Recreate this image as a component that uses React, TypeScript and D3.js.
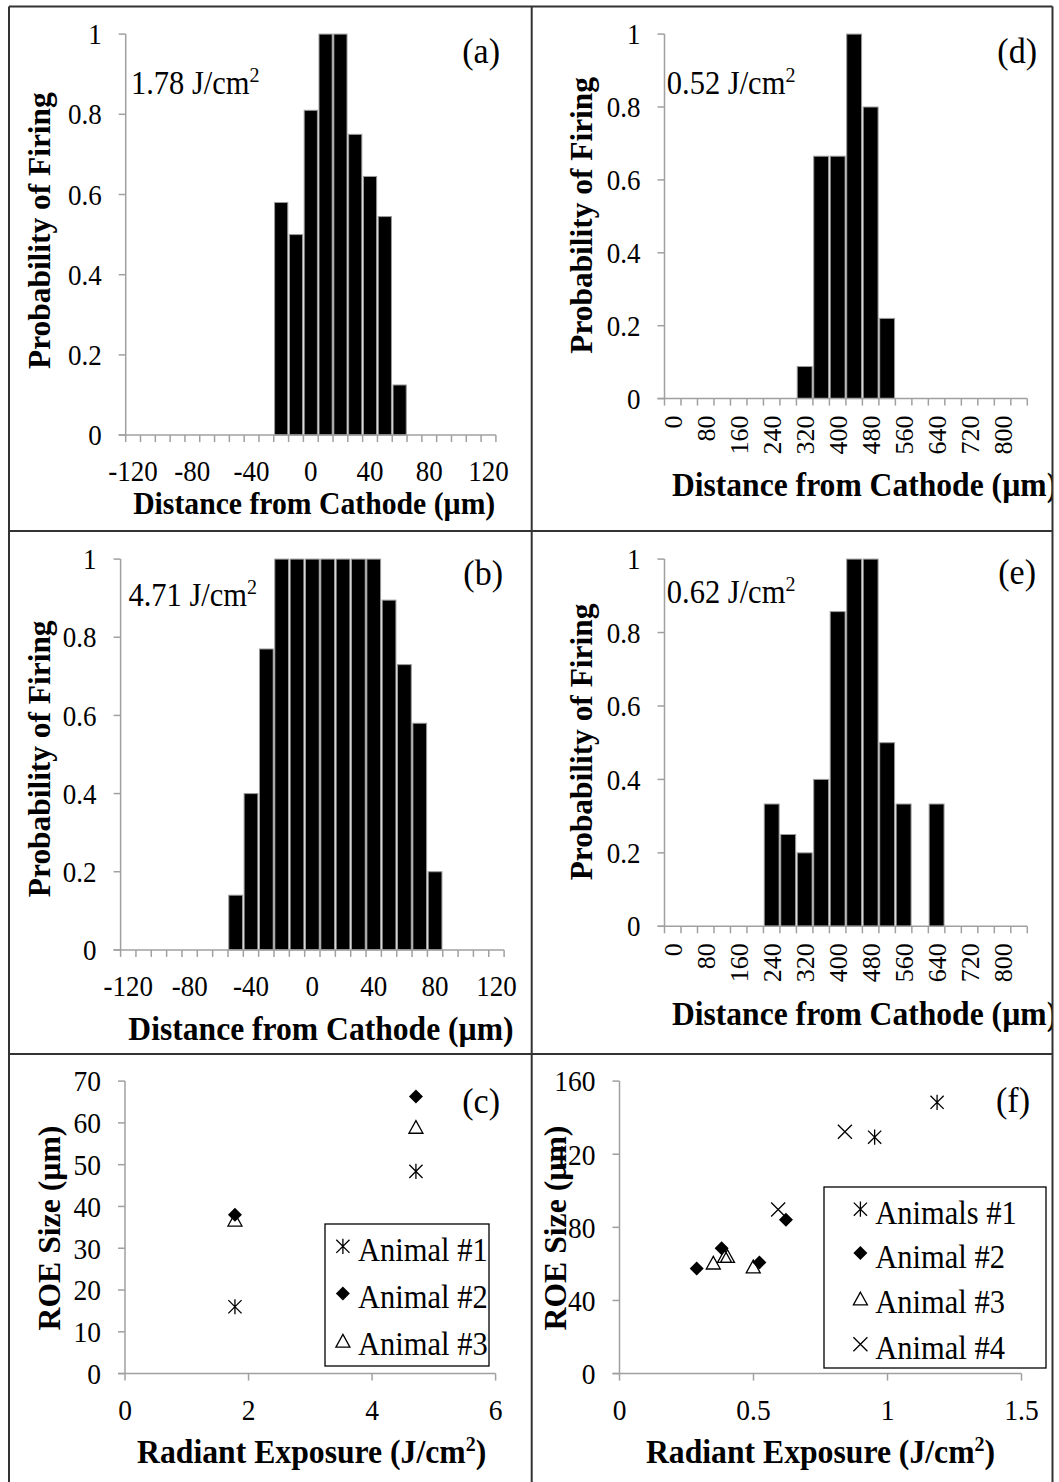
import React from "react";
import * as d3 from "d3";

const FONT = "'Liberation Serif','Times New Roman',Times,serif";

// ---------- Histogram data ----------
const distCatsAB = [-120, -110, -100, -90, -80, -70, -60, -50, -40, -30, -20, -10, 0, 10, 20, 30, 40, 50, 60, 70, 80, 90, 100, 110, 120];
const probA = [0, 0, 0, 0, 0, 0, 0, 0, 0, 0, 0.58, 0.5, 0.81, 1, 1, 0.75, 0.645, 0.545, 0.125, 0, 0, 0, 0, 0, 0];
const probB = [0, 0, 0, 0, 0, 0, 0, 0.14, 0.4, 0.77, 1, 1, 1, 1, 1, 1, 1, 0.895, 0.73, 0.58, 0.2, 0, 0, 0, 0];
const distCatsDE = [0, 40, 80, 120, 160, 200, 240, 280, 320, 360, 400, 440, 480, 520, 560, 600, 640, 680, 720, 760, 800, 840];
const probD = [0, 0, 0, 0, 0, 0, 0, 0, 0.088, 0.665, 0.665, 1, 0.8, 0.22, 0, 0, 0, 0, 0, 0, 0, 0];
const probE = [0, 0, 0, 0, 0, 0, 0.333, 0.25, 0.2, 0.4, 0.857, 1, 1, 0.5, 0.333, 0, 0.333, 0, 0, 0, 0, 0];
const probTicks = [0, 0.2, 0.4, 0.6, 0.8, 1];
const exposureA = "1.78";
const exposureB = "4.71";
const exposureD = "0.52";
const exposureE = "0.62";

// ---------- Scatter (c) ----------
const cExposure = [1.78, 4.71];
const cAnimal1 = [16, 48.4];
const cAnimal2 = [38, 66.3];
const cAnimal3 = [36.8, 59];
const cXTicks = [0, 2, 4, 6];
const cYTicks = [0, 10, 20, 30, 40, 50, 60, 70];
const cLegend = ["Animal #1", "Animal #2", "Animal #3"];

// ---------- Scatter (f) ----------
const fAnimal1X = [0.952, 1.185];
const fAnimal1Y = [129.3, 148.4];
const fAnimal2X = [0.288, 0.381, 0.522, 0.621];
const fAnimal2Y = [57.5, 68.6, 60.8, 84.2];
const fAnimal3X = [0.35, 0.392, 0.403, 0.499];
const fAnimal3Y = [60.6, 64.2, 64.2, 58.5];
const fAnimal4X = [0.592, 0.841];
const fAnimal4Y = [89.8, 132.3];
const fXTicks = [0, 0.5, 1, 1.5];
const fYTicks = [0, 40, 80, 120, 160];
const fLegend = ["Animals #1", "Animal #2", "Animal #3", "Animal #4"];

const AXIS = "#a0a0a0";
const TICK = 7;
const SY = 1.07;

function HText({ x, y, children, ...rest }: any) {
  return (
    <text transform={`translate(${x},${y}) scale(1,${SY})`} {...rest}>
      {children}
    </text>
  );
}

function Marker({ type, x, y }: { type: string; x: number; y: number }) {
  const s = 6.6;
  if (type === "asterisk")
    return (
      <path
        transform={`translate(${x},${y})`}
        d={`M${-s},${-s}L${s},${s}M${-s},${s}L${s},${-s}M0,${-s - 1}L0,${s + 1}`}
        stroke="#000"
        strokeWidth={1.3}
        fill="none"
      />
    );
  if (type === "diamond")
    return <path transform={`translate(${x},${y})`} d={`M0,-7L7,0L0,7L-7,0Z`} fill="#000" />;
  if (type === "triangle")
    return (
      <path transform={`translate(${x},${y})`} d={`M0,-6.5L7,6.2L-7,6.2Z`} fill="none" stroke="#000" strokeWidth={1.3} />
    );
  return (
    <path
      transform={`translate(${x},${y})`}
      d={`M-7,-7L7,7M-7,7L7,-7`}
      stroke="#000"
      strokeWidth={1.3}
      fill="none"
    />
  );
}

function Histogram(p: any) {
  const xs = d3.scaleBand<number>().domain(p.cats).range([p.x0, p.x1]).padding(0);
  const ys = d3.scaleLinear().domain([0, 1]).range([p.y0, p.y1]);
  const bw = xs.bandwidth();
  const bounds = p.cats.map((c: number) => xs(c) as number).concat([p.x1]);
  return (
    <g fontFamily={FONT}>
      {p.cats.map((c: number, i: number) =>
        p.vals[i] > 0 ? (
          <rect
            key={c}
            x={(xs(c) as number) + 0.8}
            y={ys(p.vals[i])}
            width={bw - 1.6}
            height={p.y0 - ys(p.vals[i])}
            fill="#000"
            stroke="#9a9a9a"
            strokeWidth={1}
          />
        ) : null
      )}
      {/* y axis */}
      <line x1={p.x0} x2={p.x0} y1={p.y0} y2={p.y1} stroke={AXIS} strokeWidth={1.5} />
      {probTicks.map((t) => (
        <g key={t}>
          <line x1={p.x0 - TICK} x2={p.x0} y1={ys(t)} y2={ys(t)} stroke={AXIS} strokeWidth={1.5} />
          <HText x={p.x0 - 24} y={ys(t)} dy="0.35em" textAnchor="end" fontSize={27}>
            {String(+t.toFixed(1))}
          </HText>
        </g>
      ))}
      {/* x axis */}
      <line x1={p.x0 - TICK} x2={p.x1} y1={p.y0} y2={p.y0} stroke={AXIS} strokeWidth={1.5} />
      {bounds.map((b: number, i: number) => (
        <line key={i} x1={b} x2={b} y1={p.y0} y2={p.y0 + TICK} stroke={AXIS} strokeWidth={1.5} />
      ))}
      {p.cats.map((c: number, i: number) =>
        i % p.labelEvery === 0 ? (
          p.rotated ? (
            <text
              key={c}
              transform={`translate(${(xs(c) as number) + bw / 2},${p.y0 + 17}) rotate(-90)`}
              dy="0.35em"
              textAnchor="end"
              fontSize={26}
            >
              {c}
            </text>
          ) : (
            <HText key={c} x={(xs(c) as number) + bw / 2} y={p.y0 + 46} textAnchor="middle" fontSize={27}>
              {c}
            </HText>
          )
        ) : null
      )}
      {/* titles */}
      <text
        transform={`translate(${p.yTitle[0]},${p.yTitle[1]}) rotate(-90)`}
        textAnchor="middle"
        fontWeight="bold"
        fontSize={31.4}
      >
        Probability of Firing
      </text>
      <g clipPath={p.clip}>
        <HText
          x={p.xTitle[0]}
          y={p.xTitle[1]}
          textAnchor={p.xTitle[3]}
          fontWeight="bold"
          fontSize={p.xTitle[2]}
        >
          Distance from Cathode (µm)
        </HText>
      </g>
      <HText x={p.ann[0]} y={p.ann[1]} fontSize={30.5}>
        {`${p.exposure} J/cm`}
        <tspan fontSize={20} dy={-11}>
          2
        </tspan>
      </HText>
      <HText x={p.label[0]} y={p.label[1]} textAnchor="end" fontSize={34}>
        {p.label[2]}
      </HText>
    </g>
  );
}

function Scatter(p: any) {
  const xs = d3.scaleLinear().domain(p.xDomain).range([p.x0, p.x1]);
  const ys = d3.scaleLinear().domain(p.yDomain).range([p.y0, p.y1]);
  const lg = p.legend;
  return (
    <g fontFamily={FONT}>
      <line x1={p.x0} x2={p.x0} y1={p.y0} y2={p.y1} stroke={AXIS} strokeWidth={1.5} />
      {p.yTicks.map((t: number) => (
        <g key={t}>
          <line x1={p.x0 - TICK} x2={p.x0} y1={ys(t)} y2={ys(t)} stroke={AXIS} strokeWidth={1.5} />
          <HText x={p.x0 - 24} y={ys(t)} dy="0.35em" textAnchor="end" fontSize={27.5}>
            {t}
          </HText>
        </g>
      ))}
      <line x1={p.x0 - TICK} x2={p.x1} y1={p.y0} y2={p.y0} stroke={AXIS} strokeWidth={1.5} />
      {p.xTicks.map((t: number) => (
        <g key={t}>
          <line x1={xs(t)} x2={xs(t)} y1={p.y0} y2={p.y0 + TICK} stroke={AXIS} strokeWidth={1.5} />
          <HText x={xs(t)} y={p.y0 + 46} textAnchor="middle" fontSize={27.5}>
            {t}
          </HText>
        </g>
      ))}
      <text
        transform={`translate(${p.yTitle[0]},${p.yTitle[1]}) rotate(-90)`}
        textAnchor="middle"
        fontWeight="bold"
        fontSize={31.7}
      >
        ROE Size (µm)
      </text>
      <HText x={p.xTitle[0]} y={p.xTitle[1]} textAnchor="middle" fontWeight="bold" fontSize={31.7}>
        Radiant Exposure (J/cm
        <tspan fontSize={20} dy={-11}>
          2
        </tspan>
        <tspan dy={11}>)</tspan>
      </HText>
      {p.series.map((s: any, si: number) =>
        s.x.map((xv: number, i: number) => <Marker key={si + "-" + i} type={s.type} x={xs(xv)} y={ys(s.y[i])} />)
      )}
      <rect x={lg.x} y={lg.y} width={lg.w} height={lg.h} fill="#fff" stroke="#000" strokeWidth={1.3} />
      {p.series.map((s: any, i: number) => (
        <g key={i}>
          <Marker type={s.type} x={lg.mx} y={lg.rows[i] - 3} />
          <HText x={lg.tx} y={lg.rows[i]} dy="0.35em" fontSize={30.5}>
            {lg.labels[i]}
          </HText>
        </g>
      ))}
      <HText x={p.label[0]} y={p.label[1]} textAnchor="end" fontSize={34}>
        {p.label[2]}
      </HText>
    </g>
  );
}

export default function App() {
  const FR = "#333";
  return (
    <svg
      width={1059}
      height={1482}
      style={{ position: "absolute", left: 0, top: 0, background: "#fff" }}
      xmlns="http://www.w3.org/2000/svg"
    >
      <defs>
        <clipPath id="clipRight">
          <rect x={531} y={0} width={521} height={1482} />
        </clipPath>
      </defs>
      <rect x={0} y={0} width={1059} height={1482} fill="#fff" />
      <Histogram
        cats={distCatsAB}
        vals={probA}
        x0={125.7}
        x1={495.9}
        y0={435.1}
        y1={34.1}
        labelEvery={4}
        rotated={false}
        yTitle={[49.6, 230.6]}
        xTitle={[314.2, 513.5, 29.7, "middle"]}
        ann={[131, 94]}
        exposure={exposureA}
        label={[500, 63, "(a)"]}
      />
      <Histogram
        cats={distCatsAB}
        vals={probB}
        x0={120.6}
        x1={504.1}
        y0={949.9}
        y1={559.1}
        labelEvery={4}
        rotated={false}
        yTitle={[49.6, 758.8]}
        xTitle={[321, 1040, 31.6, "middle"]}
        ann={[128.4, 606]}
        exposure={exposureB}
        label={[503, 585, "(b)"]}
      />
      <Histogram
        cats={distCatsDE}
        vals={probD}
        x0={664.5}
        x1={1027.3}
        y0={398.6}
        y1={34.1}
        labelEvery={2}
        rotated={true}
        yTitle={[591.5, 215.4]}
        xTitle={[671.9, 496, 31.6, "start"]}
        clip="url(#clipRight)"
        ann={[666.8, 94]}
        exposure={exposureD}
        label={[1037, 63, "(d)"]}
      />
      <Histogram
        cats={distCatsDE}
        vals={probE}
        x0={664.5}
        x1={1027.3}
        y0={926.3}
        y1={559.1}
        labelEvery={2}
        rotated={true}
        yTitle={[591.5, 742]}
        xTitle={[671.9, 1025, 31.6, "start"]}
        clip="url(#clipRight)"
        ann={[666.8, 603]}
        exposure={exposureE}
        label={[1036, 584, "(e)"]}
      />
      <Scatter
        xDomain={[0, 6]}
        yDomain={[0, 70]}
        x0={125}
        x1={495.6}
        y0={1373.6}
        y1={1081.1}
        xTicks={cXTicks}
        yTicks={cYTicks}
        yTitle={[60, 1228]}
        xTitle={[311.7, 1463]}
        label={[500, 1113, "(c)"]}
        series={[
          { type: "asterisk", x: cExposure, y: cAnimal1 },
          { type: "diamond", x: cExposure, y: cAnimal2 },
          { type: "triangle", x: cExposure, y: cAnimal3 },
        ]}
        legend={{ x: 325, y: 1224, w: 164, h: 142, mx: 342.9, tx: 358.1, rows: [1249.3, 1296.6, 1343.9], labels: cLegend }}
      />
      <Scatter
        xDomain={[0, 1.5]}
        yDomain={[0, 160]}
        x0={619.5}
        x1={1021.5}
        y0={1373.6}
        y1={1081.1}
        xTicks={fXTicks}
        yTicks={fYTicks}
        yTitle={[566, 1228]}
        xTitle={[820.5, 1463]}
        label={[1030, 1112, "(f)"]}
        series={[
          { type: "asterisk", x: fAnimal1X, y: fAnimal1Y },
          { type: "diamond", x: fAnimal2X, y: fAnimal2Y },
          { type: "triangle", x: fAnimal3X, y: fAnimal3Y },
          { type: "x", x: fAnimal4X, y: fAnimal4Y },
        ]}
        legend={{
          x: 824,
          y: 1187,
          w: 222,
          h: 181,
          mx: 860.4,
          tx: 875.3,
          rows: [1212.2, 1256.1, 1301.7, 1347.3],
          labels: fLegend,
        }}
      />
      {/* frame */}
      <g stroke={FR} strokeWidth={2} fill="none">
        <line x1={9} x2={1052.5} y1={6.5} y2={6.5} />
        <line x1={9} x2={9} y1={6.5} y2={1482} />
        <line x1={1052.5} x2={1052.5} y1={6.5} y2={1482} />
        <line x1={531.7} x2={531.7} y1={6.5} y2={1482} />
        <line x1={9} x2={1052.5} y1={531} y2={531} />
        <line x1={9} x2={1052.5} y1={1054} y2={1054} />
      </g>
    </svg>
  );
}
